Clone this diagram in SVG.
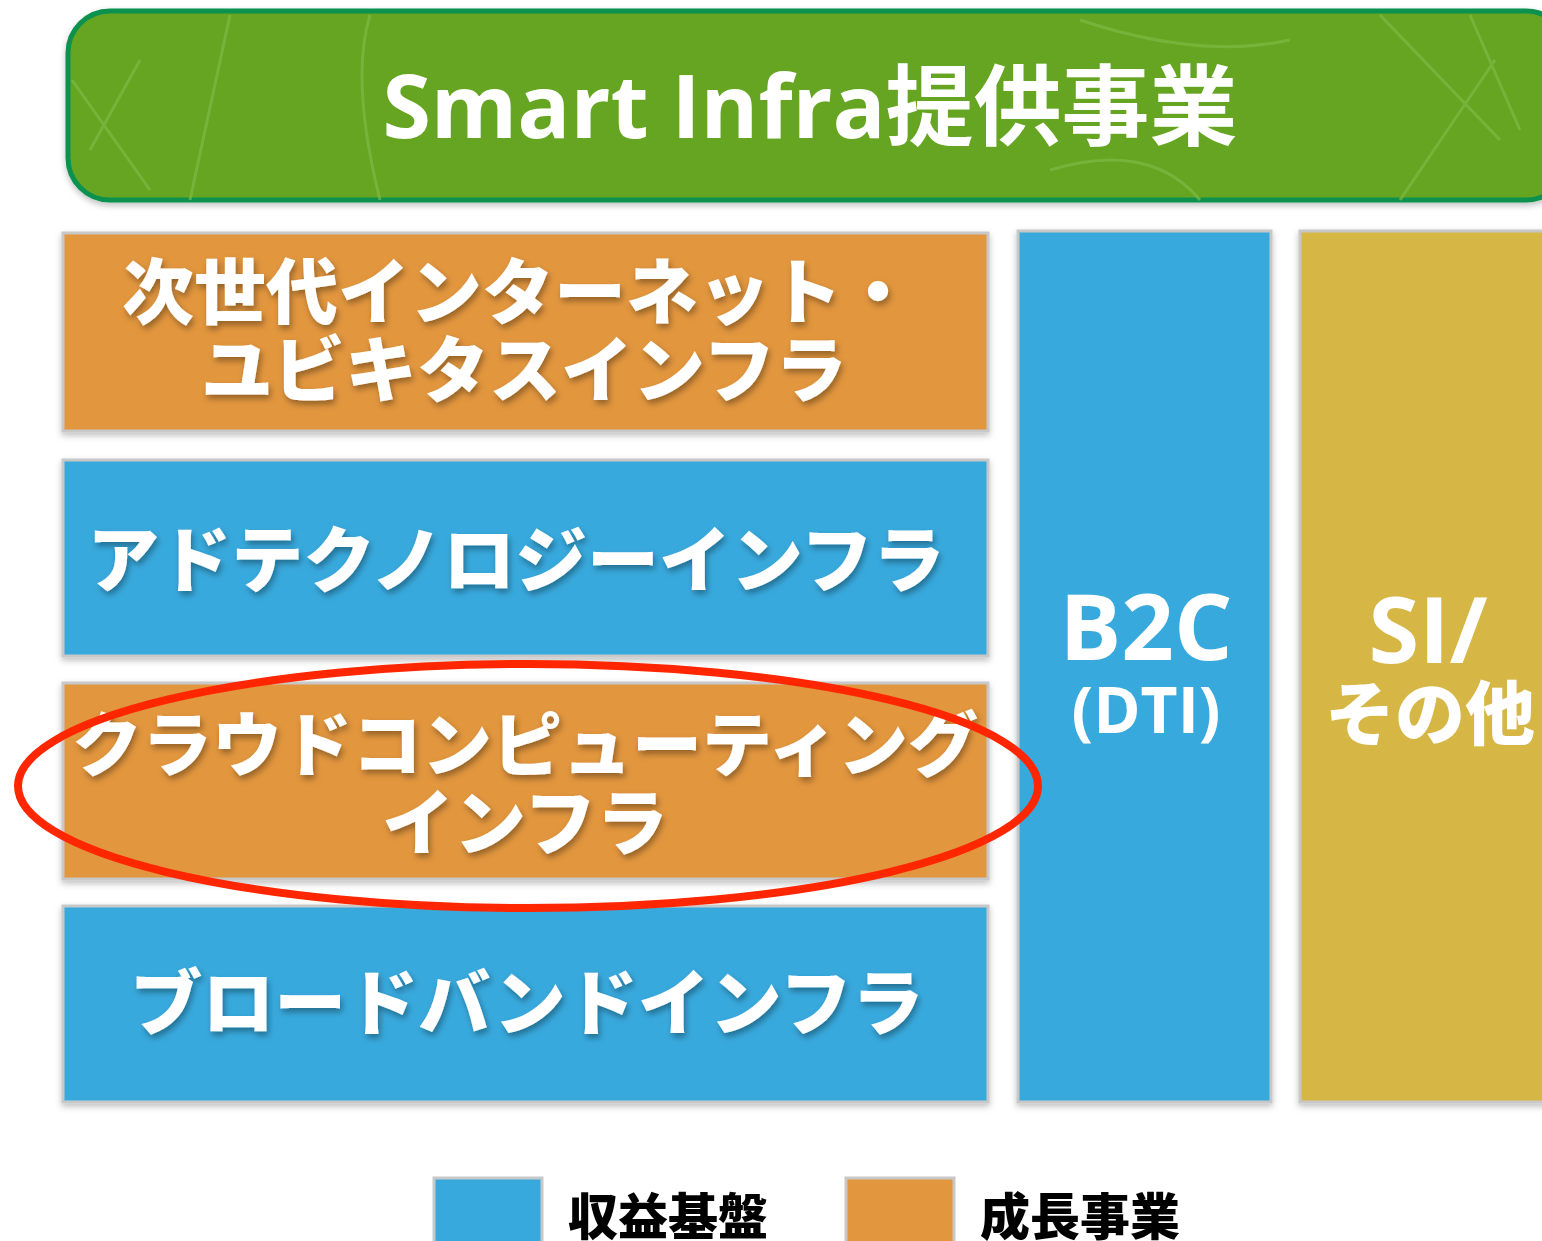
<svg xmlns="http://www.w3.org/2000/svg" width="1542" height="1241" viewBox="0 0 1542 1241">
<style>
.box{stroke:#c8c8c8;stroke-width:3}
.blue{fill:#38a9dd}
.orange{fill:#e2963e}
.yellow{fill:#d6b645}
.t{fill:#fff;font-family:"Noto Sans CJK JP","Noto Sans",sans-serif;font-weight:900;text-anchor:middle}
.lat{font-family:"Open Sans","Noto Sans CJK JP",sans-serif;font-weight:700}
.lg{fill:#000;font-family:"Noto Sans CJK JP",sans-serif;font-weight:900;font-size:50px}
</style>
<defs>
<filter id="sh" x="-10%" y="-10%" width="120%" height="130%">
<feDropShadow dx="2" dy="4" stdDeviation="3" flood-color="#000" flood-opacity="0.35"/>
</filter>
<filter id="bs" x="-5%" y="-5%" width="110%" height="115%">
<feDropShadow dx="0" dy="3" stdDeviation="3" flood-color="#000" flood-opacity="0.25"/>
</filter>
</defs>
<rect width="1542" height="1241" fill="#fff"/>
<g id="header" filter="url(#bs)">
<rect x="68" y="11" width="1500" height="189" rx="42" fill="#66a522" stroke="#0c9150" stroke-width="5"/>
<g fill="none" stroke="#7dba45" stroke-width="3" opacity="0.7">
<path d="M72 80 L150 190 M140 60 L90 150 M230 15 L190 200 M370 15 Q350 80 380 200"/>
<path d="M1380 15 L1500 140 M1495 60 L1400 200 M1470 15 L1520 130 M1080 20 Q1200 60 1290 40 M1050 170 Q1150 140 1200 200"/>
</g>
<text class="t lat" x="810" y="138" font-size="88">Smart Infra提供事業</text>
</g>
<g id="box-nextgen" filter="url(#bs)">
<rect class="box orange" x="63" y="233" width="925" height="198"/>
<text class="t" x="518" y="318" font-size="72" filter="url(#sh)">次世代インターネット・</text>
<text class="t" x="524" y="396" font-size="72" filter="url(#sh)">ユビキタスインフラ</text>
</g>
<g id="box-adtech" filter="url(#bs)">
<rect class="box blue" x="63" y="460" width="925" height="196"/>
<text class="t" x="516" y="586" font-size="72" filter="url(#sh)">アドテクノロジーインフラ</text>
</g>
<g id="box-cloud" filter="url(#bs)">
<rect class="box orange" x="63" y="683" width="925" height="196"/>
<text class="t" x="525" y="771" font-size="70" filter="url(#sh)">クラウドコンピューティング</text>
<text class="t" x="525" y="849" font-size="72" filter="url(#sh)">インフラ</text>
</g>
<g id="box-broadband" filter="url(#bs)">
<rect class="box blue" x="63" y="906" width="925" height="196"/>
<text class="t" x="527" y="1029" font-size="72" filter="url(#sh)">ブロードバンドインフラ</text>
</g>
<g id="box-b2c" filter="url(#bs)">
<rect class="box blue" x="1018" y="231" width="253" height="871"/>
<text class="t lat" x="1146" y="660" font-size="92">B2C</text>
<text class="t lat" x="1146" y="733" font-size="64">(DTI)</text>
</g>
<g id="box-si" filter="url(#bs)">
<rect class="box yellow" x="1300" y="231" width="260" height="871"/>
<text class="t lat" x="1428" y="663" font-size="92">SI/</text>
<text class="t" x="1430" y="740" font-size="70">その他</text>
</g>
<g id="highlight">
<ellipse cx="528" cy="786" rx="510" ry="122" fill="none" stroke="#ff2600" stroke-width="8"/>
</g>
<g id="legend">
<rect class="box blue" x="434" y="1178" width="108" height="70"/>
<text class="lg" x="568" y="1235">収益基盤</text>
<rect class="box orange" x="846" y="1178" width="108" height="70"/>
<text class="lg" x="980" y="1235">成長事業</text>
</g>
</svg>
